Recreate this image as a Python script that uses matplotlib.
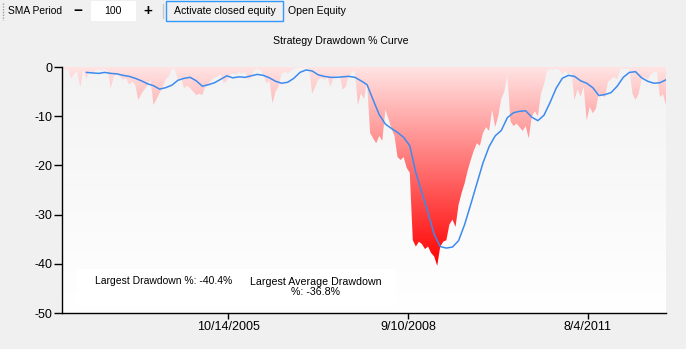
import numpy as np
import pandas as pd
import matplotlib
matplotlib.use("Agg")
import matplotlib.pyplot as plt
import matplotlib.dates as mdates
from matplotlib.colors import LinearSegmentedColormap
from matplotlib.patches import Rectangle, PathPatch

plt.rcParams['font.family'] = ['Liberation Sans', 'DejaVu Sans']
plt.rcParams['axes.unicode_minus'] = False

# drawdown %, sampled every 18 days from the start date
start = "2003-02-05"
drawdown = [
    -0.3, -0.6, -0.4, -2.4, -1.3, -1.0, -4.0, -0.6, -2.4, -0.8,
    -1.3, -0.6, -0.5, -0.7, -0.4, -0.9, -4.3, -1.9, -1.5, -1.9,
    -2.6, -2.2, -3.6, -3.0, -3.6, -6.7, -5.5, -4.6, -3.8, -2.5,
    -7.7, -6.5, -5.3, -4.0, -2.5, -1.9, -0.3, -0.5, -2.6, -2.0,
    -4.3, -3.8, -4.3, -5.0, -5.7, -5.4, -5.7, -4.0, -3.5, -2.6,
    -2.2, -1.9, -1.5, -3.3, -2.8, -1.6, -1.2, -1.6, -1.0, -1.4,
    -0.9, -2.6, -2.0, -0.6, -0.4, -0.6, -1.6, -3.3, -2.8, -7.4,
    -5.0, -4.0, -1.3, -1.0, -1.3, -0.8, -0.3, -0.2, -0.1, -0.2,
    -0.1, -0.4, -5.4, -4.0, -2.6, -2.2, -2.6, -2.0, -4.0, -2.2,
    -1.9, -1.5, -4.6, -4.0, -1.9, -1.0, -0.8, -7.7, -5.3, -6.5,
    -3.0, -13.4, -14.5, -15.5, -14.0, -15.0, -8.7, -10.5, -12.5, -14.0,
    -18.3, -18.9, -18.3, -20.5, -21.5, -35.2, -36.5, -35.5, -36.0, -37.0,
    -36.5, -37.8, -38.5, -40.4, -36.5, -35.5, -35.2, -32.0, -31.0, -32.5,
    -28.0, -25.6, -23.6, -21.0, -18.9, -17.0, -15.5, -16.0, -13.4, -12.2,
    -13.0, -8.7, -12.2, -10.0, -6.5, -5.0, -1.6, -11.0, -12.0, -11.5,
    -12.2, -13.0, -12.0, -14.5, -10.1, -9.0, -10.0, -5.4, -3.5, -0.8,
    -0.4, -0.6, -0.3, -0.5, -1.5, -0.8, -1.5, -1.0, -6.7, -4.5,
    -6.0, -4.0, -10.8, -8.1, -9.4, -8.5, -5.4, -5.8, -6.1, -3.0,
    -2.5, -2.0, -2.5, -0.5, -0.3, -0.4, -0.2, -5.4, -6.7, -5.5,
    -2.5, -2.0, -2.6, -1.5, -1.0, -0.8, -6.1, -5.5, -7.7,
]

# 100-period SMA of the drawdown, every second sample from the 9th on
sma = [
    -1.1, -1.2, -1.3, -1.1, -1.3, -1.4, -1.7, -1.9, -2.3, -2.8,
    -3.4, -3.8, -4.5, -4.2, -3.7, -2.7, -2.3, -2.1, -2.8, -3.9,
    -3.6, -3.2, -2.5, -1.8, -2.2, -2.0, -2.1, -1.8, -1.5, -1.7,
    -2.2, -2.9, -3.3, -3.1, -2.3, -1.1, -0.6, -0.8, -1.6, -1.9,
    -2.1, -2.1, -2.0, -1.9, -2.1, -2.8, -3.6, -6.7, -9.7, -11.6,
    -12.5, -13.3, -14.3, -16.0, -21.5, -25.6, -29.6, -34.0, -36.5, -36.8,
    -36.6, -35.3, -32.0, -27.9, -23.7, -19.5, -16.2, -14.0, -12.9, -10.3,
    -9.3, -9.0, -8.9, -10.2, -10.9, -9.8, -7.2, -4.3, -2.3, -1.7,
    -1.9, -2.8, -3.3, -4.2, -5.8, -5.6, -5.2, -3.9, -2.1, -1.1,
    -0.95, -2.2, -2.9, -3.3, -3.2, -2.6,
]

tick_dates = ["2005-10-14", "2008-09-10", "2011-08-04"]
tick_labels = ["10/14/2005", "9/10/2008", "8/4/2011"]
y_ticks = [0, -10, -20, -30, -40, -50]
largest_dd = -40.4
largest_avg_dd = -36.8

dates = pd.date_range(start, periods=len(drawdown), freq="18D")
sma_dates = dates[8::2]
x = mdates.date2num(dates)
xs = mdates.date2num(sma_dates)

W, H = 686, 349
fig = plt.figure(figsize=(W / 100, H / 100), dpi=100, facecolor='#F0F0F0')
ax = fig.add_axes([62 / W, 1 - 313 / H, 604 / W, 246 / H])
ax.set_facecolor('#F7F7F7')

# plot area background gradient
bg = LinearSegmentedColormap.from_list('bg', ['#F3F3F3', '#FFFFFF'])
ax.imshow(np.linspace(0, 1, 256).reshape(-1, 1), extent=[x[0], x[-1], -50, 0],
          aspect='auto', cmap=bg, origin='upper', zorder=0)

# drawdown area with vertical red gradient
poly = ax.fill_between(x, drawdown, 0, color='none', lw=0)
clip = PathPatch(poly.get_paths()[0], transform=ax.transData, fc='none', ec='none')
ax.add_patch(clip)
reds = LinearSegmentedColormap.from_list('reds', ['#FFE4E4', '#FF0000'])
img = ax.imshow(np.linspace(0, 1, 256).reshape(-1, 1),
                extent=[x[0], x[-1], min(drawdown), 0],
                aspect='auto', cmap=reds, origin='upper', zorder=2)
img.set_clip_path(clip)

ax.plot(xs, sma, color='#3D8BEF', lw=1.1, zorder=3)

ax.set_xlim(x[0], x[-1])
ax.set_ylim(-50, 0)
ax.set_yticks(y_ticks)
ax.set_xticks(mdates.date2num(pd.to_datetime(tick_dates)))
ax.set_xticklabels(tick_labels)
ax.tick_params(axis='y', length=6, width=1, labelsize=9, pad=1)
ax.tick_params(axis='x', length=4, width=1, labelsize=9, pad=1.5)
for s in ['top', 'right']:
    ax.spines[s].set_visible(False)
for s in ['left', 'bottom']:
    ax.spines[s].set_linewidth(1)

# stats box
ax.add_patch(Rectangle((15 / 604, 7 / 246), 319 / 604, 37 / 246, transform=ax.transAxes,
                       fc='white', ec='none', zorder=4))
ax.text(33 / 604, 32 / 246, f"Largest Drawdown %: {largest_dd}%", transform=ax.transAxes,
        fontsize=7.5, va='center', ha='left', zorder=5)
ax.text(254 / 604, 26 / 246, f"Largest Average Drawdown\n%: {largest_avg_dd}%",
        transform=ax.transAxes, fontsize=7.7, va='center', ha='center',
        multialignment='center', linespacing=1.0, zorder=5)

fig.text(341 / W, 1 - 41 / H, "Strategy Drawdown % Curve", fontsize=7.6,
         ha='center', va='center')

# toolbar
def fx(px):
    return px / W

def fy(py):
    return 1 - py / H

fig.add_artist(plt.Line2D([fx(3), fx(3)], [fy(3), fy(20)], color='#A0A0A0',
                          lw=1, ls=(0, (1, 1))))
fig.text(fx(8), fy(11.5), "SMA Period", fontsize=7.4, va='center', ha='left')
fig.text(fx(77.5), fy(11), "\u2212", fontsize=11, fontweight='bold', va='center', ha='center')
fig.add_artist(Rectangle((fx(91), fy(21)), fx(136) - fx(91), fy(1) - fy(21),
                         transform=fig.transFigure, fc='white', ec='none'))
fig.text(fx(113), fy(11.5), "100", fontsize=7.6, va='center', ha='center')
fig.text(fx(148), fy(11), "+", fontsize=11, fontweight='bold', va='center', ha='center')
fig.add_artist(plt.Line2D([fx(163), fx(163)], [fy(4), fy(18)], color='#C8C8C8', lw=1))
fig.add_artist(Rectangle((fx(166), fy(21)), fx(283) - fx(166), fy(1) - fy(21),
                         transform=fig.transFigure, fc='#F0F0F0', ec='#3399FF', lw=1))
fig.text(fx(224.5), fy(11.5), "Activate closed equity", fontsize=7.6, va='center', ha='center')
fig.text(fx(288), fy(11.5), "Open Equity", fontsize=7.6, va='center', ha='left')

fig.savefig("out.png", dpi=100, facecolor=fig.get_facecolor())
